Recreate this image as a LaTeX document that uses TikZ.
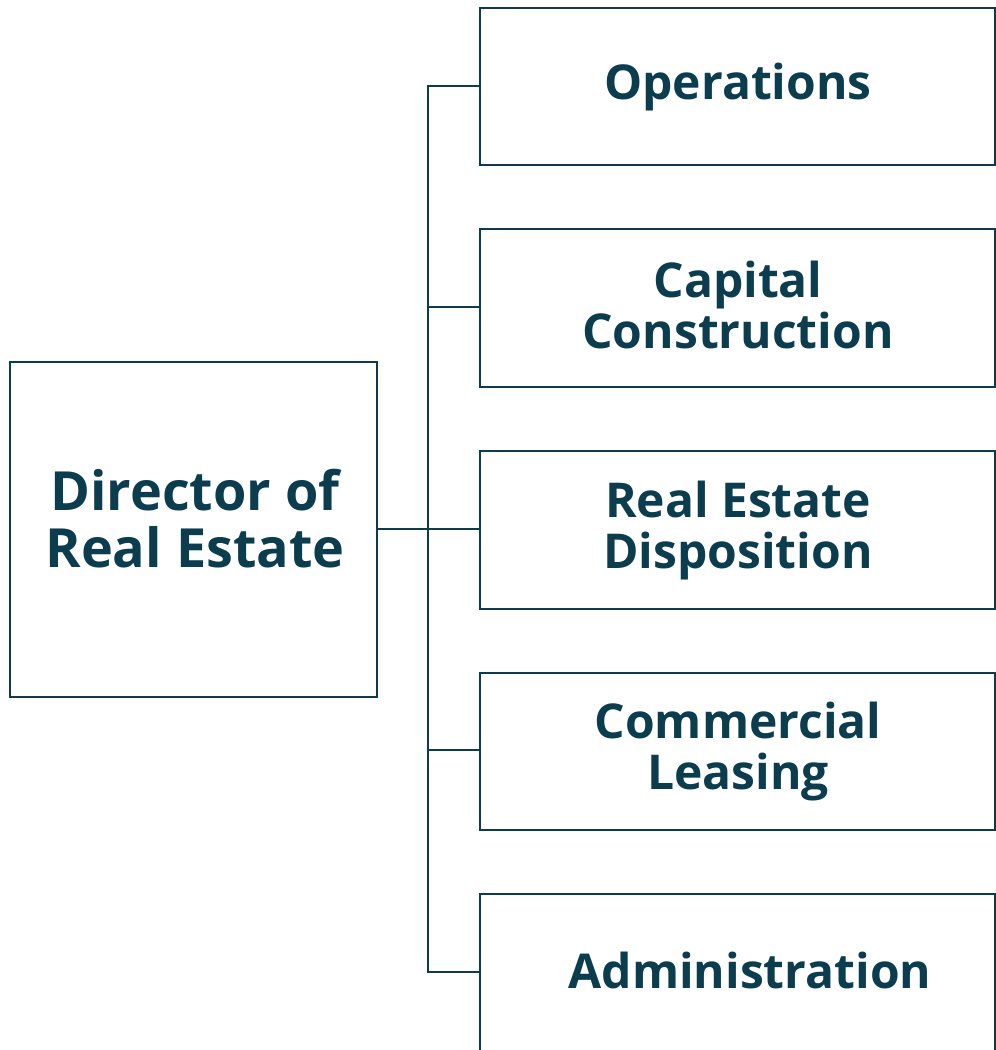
\documentclass[tikz,border=0pt]{standalone}
\usepackage{fontspec}
\setmainfont{Open Sans}
\definecolor{teal}{HTML}{0B3D4F}
\tikzset{
  box/.style={draw=teal, line width=2.6pt, fill=white},
  lbl/.style={text=teal, font=\fontsize{48}{51}\selectfont\bfseries, align=center, inner sep=0pt},
  biglbl/.style={lbl, font=\fontsize{54}{57}\selectfont\bfseries},
  conn/.style={draw=teal, line width=2.6pt}
}
\begin{document}
\begin{tikzpicture}[x=1pt,y=-1pt]
\useasboundingbox (0,0) rectangle (996,1050);
\begin{scope}
\clip (0,0) rectangle (996,1050);
\draw[box] (10,362) rectangle (377,697);
\draw[box] (480,8) rectangle (995,165);
\draw[box] (480,229) rectangle (995,387);
\draw[box] (480,451) rectangle (995,609);
\draw[box] (480,673) rectangle (995,830);
\draw[box] (480,894) rectangle (995,1080);
\end{scope}
\node[biglbl] (dir) at (195,519) {Director of\\Real Estate};
\node[lbl] (ops) at (738,87) {Operations};
\node[lbl] (cap) at (738,305) {Capital\\Construction};
\node[lbl] (red) at (738,531) {Real Estate\\Disposition};
\node[lbl] (com) at (738,752) {Commercial\\Leasing};
\node[lbl] (adm) at (750,970) {Administration};
\coordinate (dr) at (377,529);
\coordinate (t) at (428,86);
\coordinate (b) at (428,972);
\draw[conn] (480,86) -- (t) -- (b) -- (480,972);
\draw[conn] (dr) -- (480,529);
\draw[conn] (428,307) -- (480,307);
\draw[conn] (428,750) -- (480,750);
\end{tikzpicture}
\end{document}
